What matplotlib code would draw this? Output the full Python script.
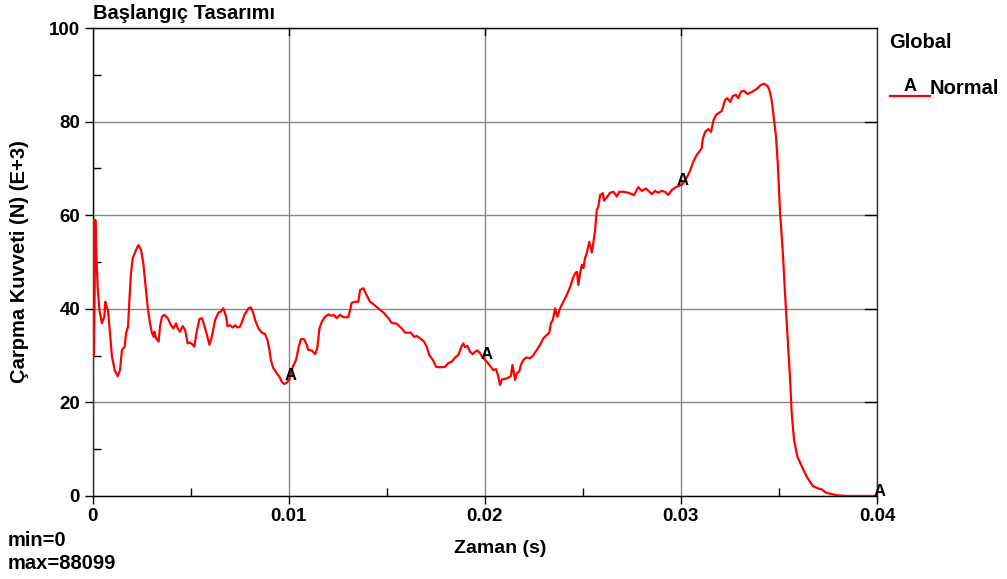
import matplotlib
matplotlib.use('Agg')
import matplotlib.pyplot as plt
import numpy as np
from matplotlib.ticker import MultipleLocator

plt.rcParams['font.family'] = ['Liberation Sans', 'DejaVu Sans']
plt.rcParams['font.weight'] = 'bold'
plt.rcParams['axes.labelweight'] = 'bold'

# impact force history, time in ms, force in kN (E+3 N)
t_ms = [0.0, 0.02, 0.07, 0.11, 0.14, 0.18, 0.26, 0.35, 0.48, 0.60, 0.65, 0.72, 0.79,
        0.89, 0.99, 1.13, 1.28, 1.40, 1.50, 1.64, 1.71, 1.81, 1.88, 1.96, 2.05, 2.22,
        2.34, 2.47, 2.59, 2.69, 2.81, 2.93, 3.03, 3.12, 3.15, 3.24, 3.37, 3.44, 3.54,
        3.66, 3.83, 4.00, 4.12, 4.26, 4.34, 4.46, 4.60, 4.72, 4.85, 4.97, 5.11, 5.19,
        5.31, 5.45, 5.58, 5.79, 5.96, 6.08, 6.25, 6.42, 6.54, 6.67, 6.81, 6.88, 7.01,
        7.15, 7.27, 7.39, 7.52, 7.66, 7.74, 7.95, 8.07, 8.17, 8.29, 8.46, 8.63, 8.80,
        8.92, 9.02, 9.09, 9.22, 9.39, 9.53, 9.65, 9.77, 9.90, 10.04, 10.21, 10.38,
        10.50, 10.62, 10.79, 10.92, 11.00, 11.18, 11.35, 11.46, 11.57, 11.69, 11.86,
        12.03, 12.20, 12.31, 12.45, 12.62, 12.79, 13.04, 13.13, 13.22, 13.39, 13.55,
        13.64, 13.81, 13.98, 14.15, 14.32, 14.57, 14.83, 15.09, 15.25, 15.51, 15.77,
        15.94, 16.23, 16.40, 16.53, 16.70, 16.90, 17.04, 17.17, 17.35, 17.52, 17.72,
        17.98, 18.14, 18.32, 18.49, 18.65, 18.83, 18.91, 18.99, 19.11, 19.25, 19.39,
        19.50, 19.62, 19.76, 19.90, 20.10, 20.31, 20.44, 20.58, 20.69, 20.78, 20.87,
        21.12, 21.33, 21.41, 21.55, 21.63, 21.76, 21.84, 21.97, 22.14, 22.31, 22.48,
        22.65, 22.82, 22.99, 23.16, 23.29, 23.37, 23.47, 23.59, 23.70, 23.84, 24.01,
        24.15, 24.26, 24.39, 24.49, 24.61, 24.70, 24.77, 24.86, 24.95, 25.03, 25.11,
        25.20, 25.33, 25.46, 25.54, 25.62, 25.71, 25.79, 25.88, 26.02, 26.08, 26.22,
        26.39, 26.56, 26.73, 26.86, 27.07, 27.32, 27.61, 27.83, 28.01, 28.21, 28.35,
        28.52, 28.68, 28.85, 29.02, 29.19, 29.36, 29.54, 29.79, 30.05, 30.30, 30.47,
        30.64, 30.81, 30.94, 31.06, 31.12, 31.24, 31.40, 31.54, 31.66, 31.79, 31.96,
        32.09, 32.25, 32.37, 32.51, 32.65, 32.81, 32.93, 33.06, 33.22, 33.39, 33.56,
        33.73, 33.90, 34.07, 34.24, 34.41, 34.51, 34.63, 34.75, 34.85, 34.94, 35.06,
        35.20, 35.31, 35.43, 35.57, 35.65, 35.77, 35.94, 36.17, 36.42, 36.73, 37.01,
        37.18, 37.40, 37.70, 37.95, 38.50, 40.00]
force_kN = [0.0, 59.0, 30.0, 45.0, 59.0, 53.3, 44.7, 39.7, 36.9, 38.3, 41.5, 40.4, 39.7,
            34.8, 29.8, 26.9, 25.6, 26.9, 31.2, 31.9, 34.8, 36.2, 41.9, 47.6, 50.8, 52.6,
            53.6, 52.6, 49.7, 45.4, 40.4, 36.9, 34.8, 34.0, 35.1, 33.7, 33.0, 36.2, 38.3,
            38.7, 38.0, 36.5, 35.8, 36.9, 35.8, 35.1, 36.3, 35.5, 32.6, 32.8, 32.3, 31.9,
            35.1, 37.8, 38.0, 35.1, 32.3, 34.0, 37.6, 39.2, 39.4, 40.1, 38.3, 36.3, 36.5,
            36.0, 36.5, 36.0, 36.2, 37.6, 38.7, 40.1, 40.3, 39.4, 37.6, 35.8, 34.9, 34.6,
            33.3, 31.2, 29.1, 27.3, 26.2, 25.5, 24.4, 23.9, 24.2, 24.9, 27.6, 29.1,
            31.6, 33.5, 33.5, 32.3, 31.2, 31.1, 30.3, 31.6, 35.8, 37.2, 38.3,
            38.8, 38.5, 38.7, 38.0, 38.7, 38.2, 38.2, 39.7, 41.3, 41.5, 41.5,
            44.0, 44.4, 42.9, 41.5, 41.0, 40.1, 39.2, 38.0, 37.0, 36.8, 35.8,
            34.9, 34.9, 34.0, 34.2, 33.7, 33.0, 31.9, 30.1, 29.1, 27.6, 27.5,
            27.6, 28.4, 28.7, 29.6, 30.1, 32.1, 32.6, 31.8, 32.1, 30.8, 30.3,
            30.8, 31.1, 30.5, 29.6, 28.7, 27.6, 26.9, 27.1, 25.5, 23.7, 24.9,
            25.1, 25.6, 28.0, 24.8, 26.2, 26.6, 28.0, 29.1, 29.6, 29.4, 30.1,
            31.2, 32.3, 33.7, 34.4, 34.9, 36.9, 37.6, 40.1, 38.3, 40.1, 41.5,
            42.7, 43.7, 45.1, 46.5, 47.6, 47.9, 45.1, 47.6, 49.4, 48.7, 50.8,
            51.9, 54.3, 52.0, 54.3, 56.5, 61.1, 61.8, 64.3, 64.7, 63.1, 63.8,
            64.8, 65.0, 64.0, 65.0, 65.0, 64.8, 64.3, 66.0, 65.2, 65.7, 65.2,
            64.5, 65.2, 64.8, 65.2, 65.0, 64.3, 65.4, 66.1, 66.5, 68.0, 69.5,
            71.5, 72.9, 73.6, 74.3, 76.4, 77.8, 78.4, 77.8, 80.3, 81.4, 81.9,
            82.3, 84.6, 85.0, 84.2, 85.5, 85.7, 85.0, 86.4, 86.6, 85.9, 86.2,
            86.6, 87.1, 87.8, 88.1, 87.6, 86.8, 84.6, 80.3, 76.8, 71.1, 60.4,
            51.9, 43.3, 34.8, 24.8, 17.7, 12.0, 8.4, 6.3, 4.1, 2.1, 1.6,
            1.4, 0.7, 0.4, 0.15, 0.0, 0.0]

# curve label positions (ms)
label_ms = [10.0, 20.0, 30.0, 40.0]

t = np.array(t_ms) / 1000.0
f = np.array(force_kN)

fig = plt.figure(figsize=(10.07, 5.79), dpi=100)
ax = fig.add_axes([0.0919, 0.1434, 0.779, 0.8082])

ax.plot(t, f, color='red', lw=1.6, zorder=3)
for lm in label_ms:
    fy = np.interp(lm, t_ms, force_kN)
    ax.annotate('A', (lm / 1000.0, fy), xytext=(1.5, -2), textcoords='offset points',
                ha='center', va='bottom', fontsize=12, color='black', zorder=4)

ax.set_xlim(0, 0.04)
ax.set_ylim(0, 100)
ax.xaxis.set_minor_locator(MultipleLocator(0.005))
ax.yaxis.set_major_locator(MultipleLocator(20))
ax.yaxis.set_minor_locator(MultipleLocator(10))
ax.set_xticks([0, 0.01, 0.02, 0.03, 0.04])
ax.set_xticklabels(['0', '0.01', '0.02', '0.03', '0.04'])

ax.grid(True, which='major', color='#888888', lw=1.0, zorder=1)
ax.tick_params(which='major', direction='out', length=6, width=1, labelsize=13.5,
               colors='black', pad=3)
ax.tick_params(which='minor', direction='in', length=6, width=1)
for spine in ax.spines.values():
    spine.set_color('black')
    spine.set_linewidth(1.0)
ax.spines['right'].set_color('#333333')

# inward major ticks on the top and right edges
for y in range(20, 100, 20):
    ax.plot([0.0394, 0.04], [y, y], color='black', lw=1, clip_on=False, zorder=2)
for x in [0.01, 0.02, 0.03]:
    ax.plot([x, x], [98.6, 100], color='black', lw=1, clip_on=False, zorder=2)

ax.set_xlabel('Zaman (s)', fontsize=14)
ax.xaxis.set_label_coords(0.52, -0.095)
ax.set_ylabel('Çarpma Kuvveti (N) (E+3)', fontsize=14.5, labelpad=14)

fig.text(0.0924, 0.960, 'Başlangıç Tasarımı', fontsize=14.5, ha='left', va='bottom')
fig.text(0.008, 0.066, 'min=0', fontsize=14.5, ha='left', va='center')
fig.text(0.008, 0.027, 'max=88099', fontsize=14.5, ha='left', va='center')

# legend block on the right
fig.text(0.883, 0.926, 'Global', fontsize=14.5, ha='left', va='center')
fig.lines.append(plt.Line2D([0.884, 0.924], [0.834, 0.834], color='red', lw=1.6,
                            transform=fig.transFigure))
fig.text(0.897, 0.836, 'A', fontsize=13, ha='left', va='bottom')
fig.text(0.923, 0.848, 'Normal', fontsize=14.5, ha='left', va='center')

fig.savefig('out.png', dpi=100)
